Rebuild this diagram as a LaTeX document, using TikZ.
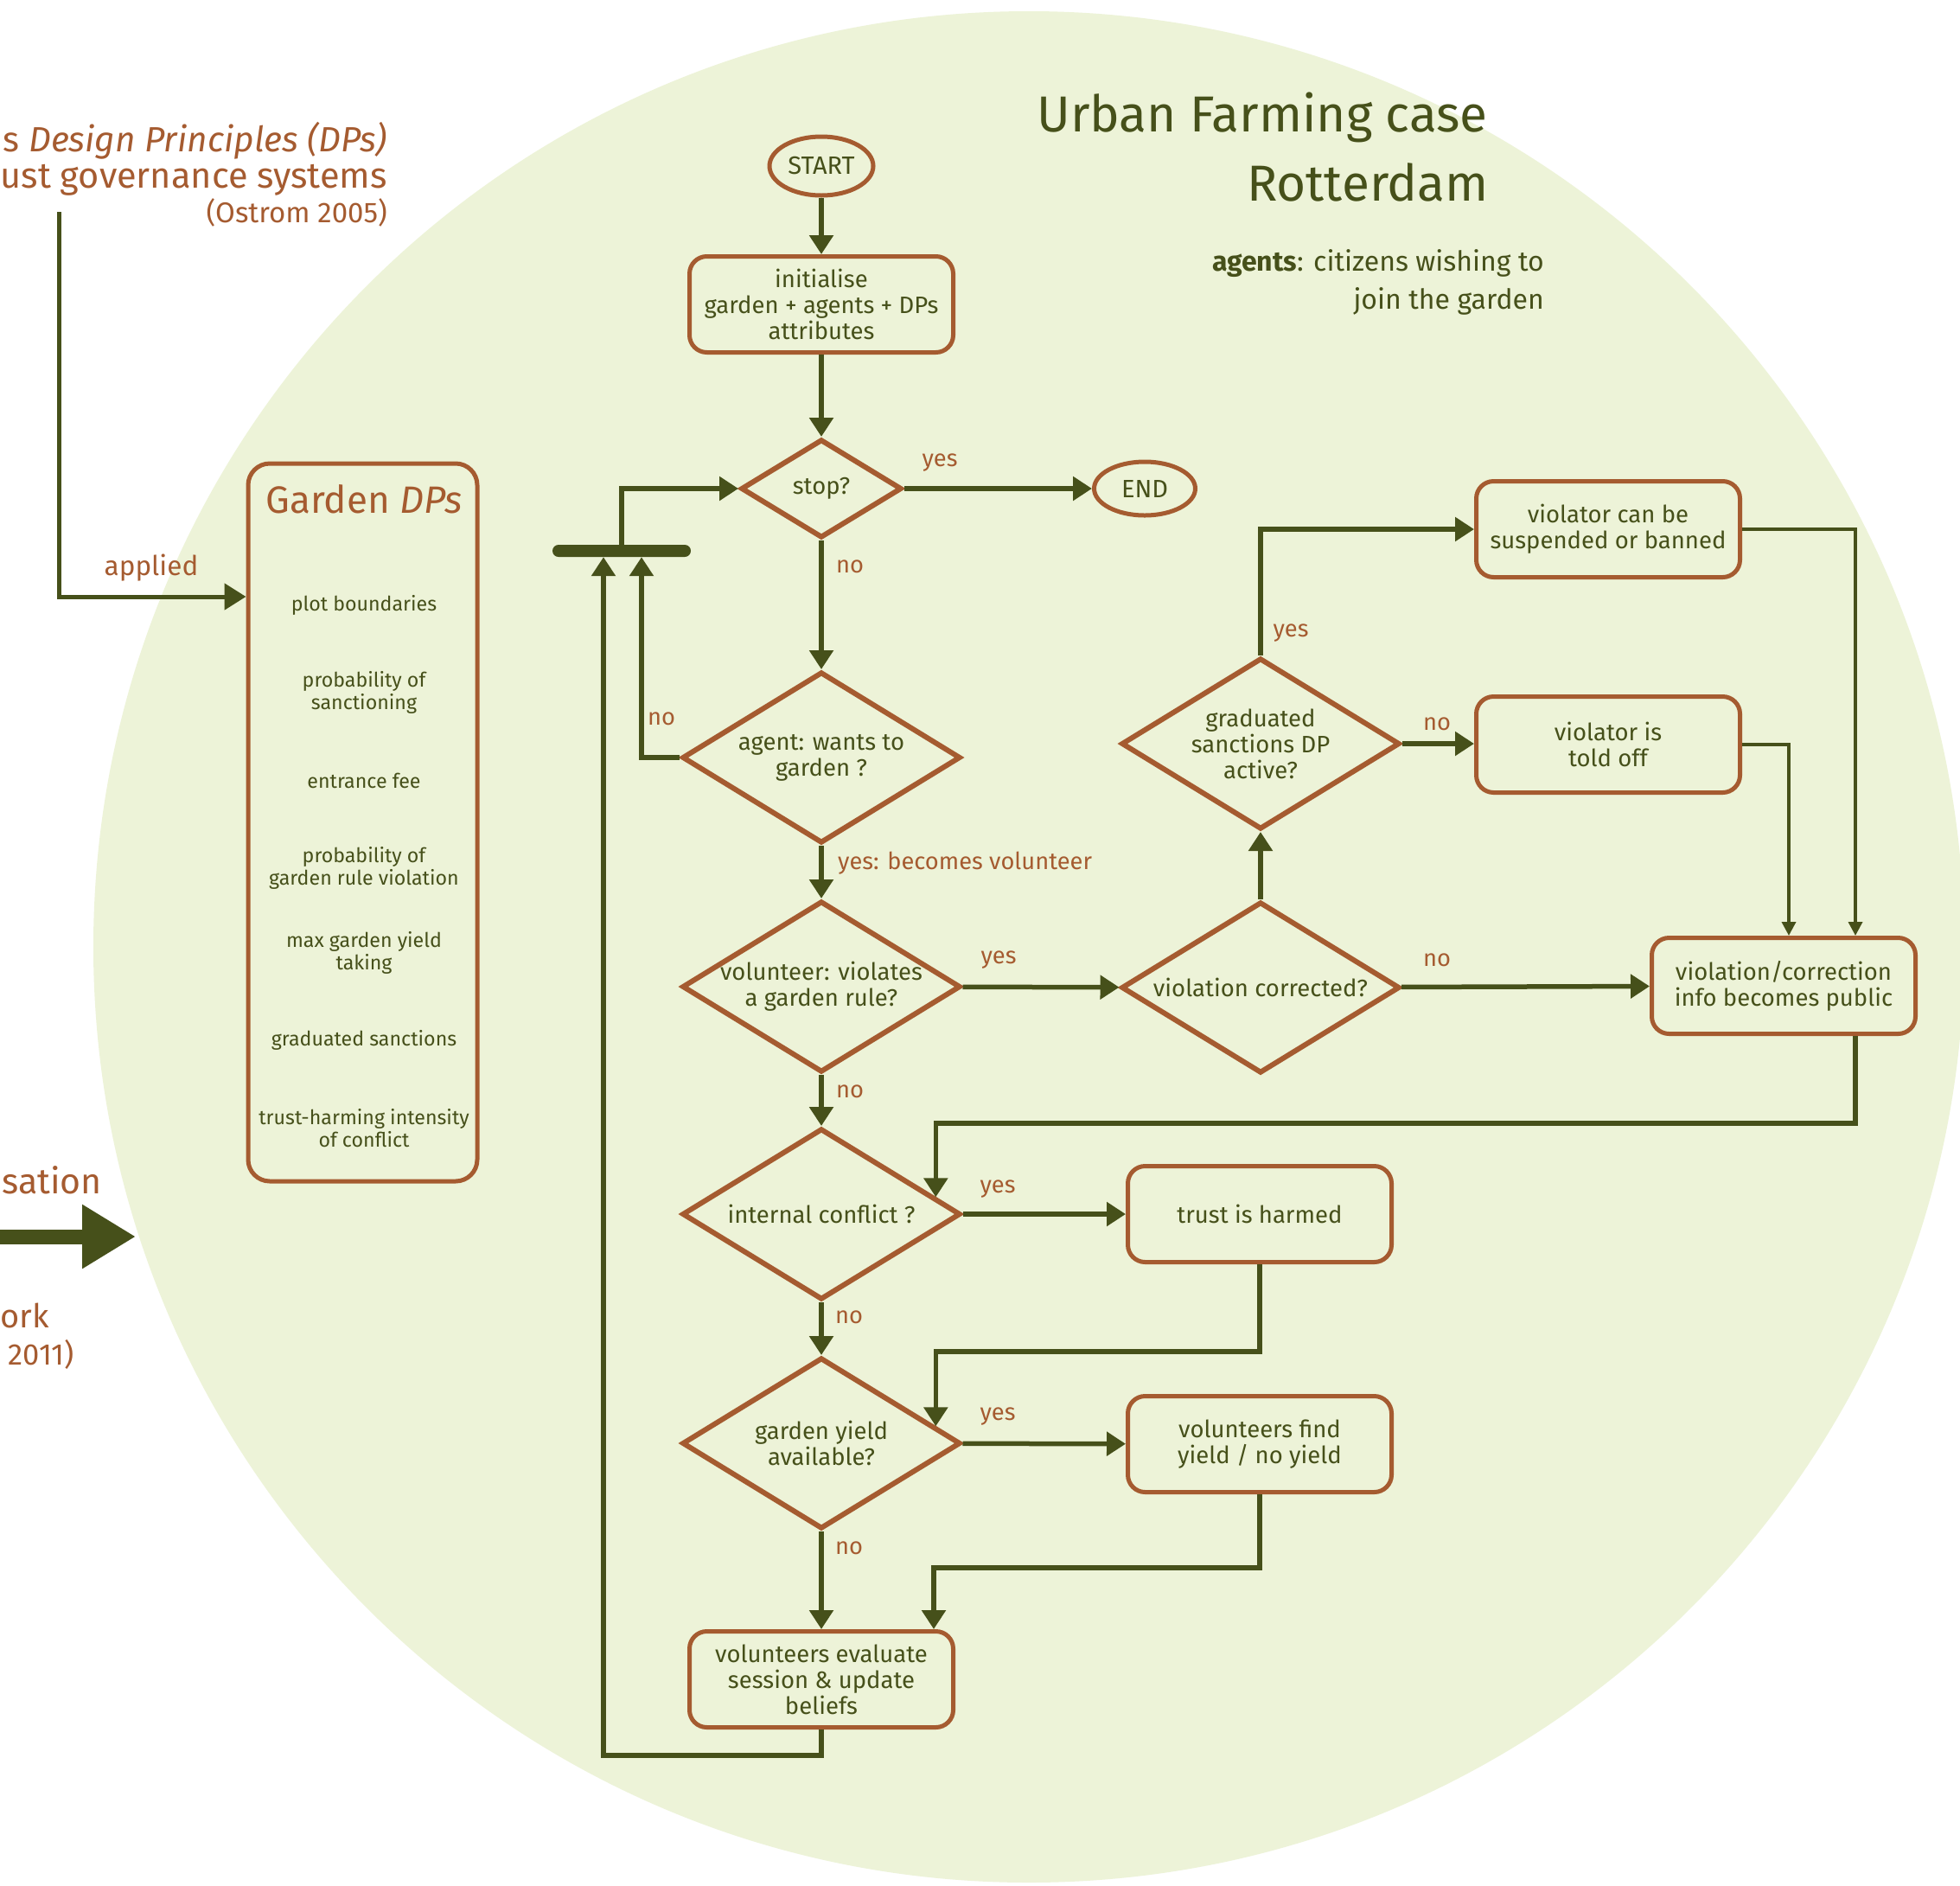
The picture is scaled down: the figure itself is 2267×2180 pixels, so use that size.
\documentclass[tikz,border=0pt]{standalone}
\usepackage{fontspec}
\setmainfont{Fira Sans}
\usetikzlibrary{arrows.meta,shapes.geometric,calc}
\definecolor{bgc}{HTML}{EDF3D8}
\definecolor{olv}{HTML}{46501A}
\definecolor{brn}{HTML}{A55B30}
\begin{document}
\begin{tikzpicture}[x=1pt,y=-1pt,
  proc/.style={rectangle, rounded corners=20pt, draw=brn, line width=5pt, fill=bgc, text=olv, minimum width=305pt, minimum height=111pt, inner sep=0pt, align=center, font=\fontsize{27.5}{30}\selectfont},
  term/.style={ellipse, draw=brn, line width=5pt, fill=bgc, text=olv, inner sep=0pt, font=\fontsize{29}{30}\selectfont},
  dec/.style={diamond, aspect=1.63, draw=brn, line width=6pt, fill=bgc, text=olv, minimum width=322pt, minimum height=198pt, inner sep=-10pt, align=center, font=\fontsize{27.5}{30}\selectfont},
  flow/.style={draw=olv, line width=5.5pt, -{Triangle[length=22pt,width=27pt]}},
  thinflow/.style={draw=olv, line width=3.5pt, -{Triangle[length=16pt,width=16pt]}},
  lab/.style={text=brn, font=\fontsize{27.3}{30}\selectfont, inner sep=0pt},
  dp/.style={text=olv, font=\fontsize{23.2}{26}\selectfont, align=center, inner sep=0pt},
  side/.style={anchor=base east, text=brn, inner sep=0pt},
]
\useasboundingbox (0,0) rectangle (2267,2180);
\fill[white] (0,0) rectangle (2267,2180);
\fill[bgc] (1190,1095) circle (1082);

% left texts
\node[side, font=\fontsize{40.5}{48}\selectfont] (t1) at (448,175) {s \textit{Design Principles (DPs)}};
\node[side, font=\fontsize{41.5}{48}\selectfont] (t2) at (448,217) {ust governance systems};
\node[side, font=\fontsize{33}{38}\selectfont] (t3) at (448,257) {(Ostrom 2005)};
\node[side, font=\fontsize{41}{48}\selectfont] (b1) at (118,1380) {sation};
\node[anchor=base west, text=brn, inner sep=0pt, font=\fontsize{38}{48}\selectfont] (b2) at (0,1535) {ork};
\node[side, font=\fontsize{34.5}{38}\selectfont] (b3) at (86,1578) {2011)};
\coordinate (ba1) at (0,1430);
\coordinate (ba2) at (157,1430);
\draw[olv, line width=17pt, -{Triangle[length=62pt,width=70pt]}] (ba1) -- (ba2);

% title
\node[anchor=base east, text=olv, inner sep=0pt, font=\fontsize{58.5}{70}\selectfont] (ti1) at (1721,152) {Urban Farming case};
\node[anchor=base east, text=olv, inner sep=0pt, font=\fontsize{58.5}{70}\selectfont] (ti2) at (1722,232) {Rotterdam};
\node[anchor=base east, text=olv, inner sep=0pt, font=\fontsize{32}{36}\selectfont] (ag1) at (1786,313) {\textbf{agents}: citizens wishing to};
\node[anchor=base east, text=olv, inner sep=0pt, font=\fontsize{32}{36}\selectfont] (ag2) at (1786,357) {join the garden};

% Garden DPs box
\node[draw=brn, line width=5pt, rounded corners=25pt, minimum width=265pt, minimum height=830pt, inner sep=0pt, fill=bgc] (dps) at (419.5,951) {};
\node[text=brn, inner sep=0pt, font=\fontsize{44}{50}\selectfont] (dpst) at (421,577) {Garden \textit{DPs}};
\node[dp] (dp1) at (421,700) {plot boundaries};
\node[dp] (dp2) at (421,801) {probability of\\sanctioning};
\node[dp] (dp3) at (421,903) {entrance fee};
\node[dp] (dp4) at (421,1004) {probability of\\garden rule violation};
\node[dp] (dp5) at (421,1102) {max garden yield\\taking};
\node[dp] (dp6) at (421,1203) {graduated sanctions};
\node[dp] (dp7) at (421,1305) {trust-harming intensity\\of conflict};
\coordinate (osrc) at (68,245);
\draw[olv, line width=5pt, -{Triangle[length=25pt,width=30pt]}] (osrc) |- ([yshift=261pt]dps.west);
\node[lab, font=\fontsize{31.5}{34}\selectfont] (applied) at (175,657) {applied};

% flow nodes
\node[term, minimum width=120pt, minimum height=68pt] (start) at (950,192) {START};
\node[proc] (init) at (950,352) {initialise\\garden + agents + DPs\\attributes};
\node[dec, minimum width=186pt, minimum height=114pt] (stop) at (950,565) {stop?};
\node[term, minimum width=117pt, minimum height=62pt] (end) at (1324,565) {END};
\node[fill=olv, rounded corners=7pt, minimum width=160pt, minimum height=14pt, inner sep=0pt] (bar) at (719,637) {};
\node[dec] (agent) at (950,876) {agent: wants to\\garden ?};
\node[dec] (viol) at (950,1141) {volunteer: violates\\a garden rule?};
\node[dec] (corr) at (1458,1142) {violation corrected?};
\node[dec] (grad) at (1458,860) {graduated\\sanctions DP\\active?};
\node[proc] (susp) at (1860,612) {violator can be\\suspended or banned};
\node[proc] (told) at (1860,861) {violator is\\told off};
\node[proc] (pub) at (2063,1140) {violation/correction\\info becomes public};
\node[dec] (conf) at (950,1404) {internal conflict ?};
\node[proc] (trust) at (1457,1404) {trust is harmed};
\node[dec] (yield) at (950,1669) {garden yield\\available?};
\node[proc] (find) at (1457,1670) {volunteers find\\yield / no yield};
\node[proc] (eval) at (950,1942) {volunteers evaluate\\session \& update\\beliefs};

\coordinate (confin) at ($(conf.north)!0.807!(conf.east)$);
\coordinate (yieldin) at ($(yield.north)!0.807!(yield.east)$);

% connectors
\draw[flow] (start) -- (init);
\draw[flow] (init) -- (stop);
\draw[flow] (stop) -- (end);
\draw[flow] (stop) -- (agent);
\draw[flow] (agent.west) -| ([xshift=23pt]bar.south);
\draw[flow] (bar.north) |- (stop.west);
\draw[flow] (eval.south) -- ++(0,30) -| ([xshift=-21pt]bar.south);
\draw[flow] (agent) -- (viol);
\draw[flow] (viol) -- (corr);
\draw[flow] (viol) -- (conf);
\draw[flow] (corr) -- (grad);
\draw[flow] (corr) -- (pub);
\draw[flow] (grad.north) |- (susp.west);
\draw[flow] (grad.east) -- (told.west |- grad.east);
\draw[thinflow] (susp.east) -| ([xshift=83pt]pub.north);
\draw[thinflow] (told.east) -| ([xshift=6pt]pub.north);
\draw[flow] ([xshift=83pt]pub.south) -- ++(0,101) -| (confin);
\draw[flow] (conf) -- (trust);
\draw[flow] (conf) -- (yield);
\draw[flow] (trust.south) -- ++(0,101) -| (yieldin);
\draw[flow] (yield) -- (find);
\draw[flow] (yield) -- (eval);
\draw[flow] (find.south) -- ++(0,85) -| ([xshift=130pt]eval.north);

% labels
\node[lab] (ly1) at (1087,535) {yes};
\node[lab] (ln1) at (983,655) {no};
\node[lab] (ln2) at (765,831) {no};
\node[lab, anchor=west] (lyv) at (969,998) {yes: becomes volunteer};
\node[lab] (ly2) at (1155,1110) {yes};
\node[lab] (ln3) at (983,1262) {no};
\node[lab] (ly3) at (1493,732) {yes};
\node[lab] (ln4) at (1662,837) {no};
\node[lab] (ln5) at (1662,1110) {no};
\node[lab] (ly4) at (1154,1375) {yes};
\node[lab] (ln6) at (982,1523) {no};
\node[lab] (ly5) at (1154,1638) {yes};
\node[lab] (ln7) at (982,1790) {no};
\end{tikzpicture}
\end{document}
